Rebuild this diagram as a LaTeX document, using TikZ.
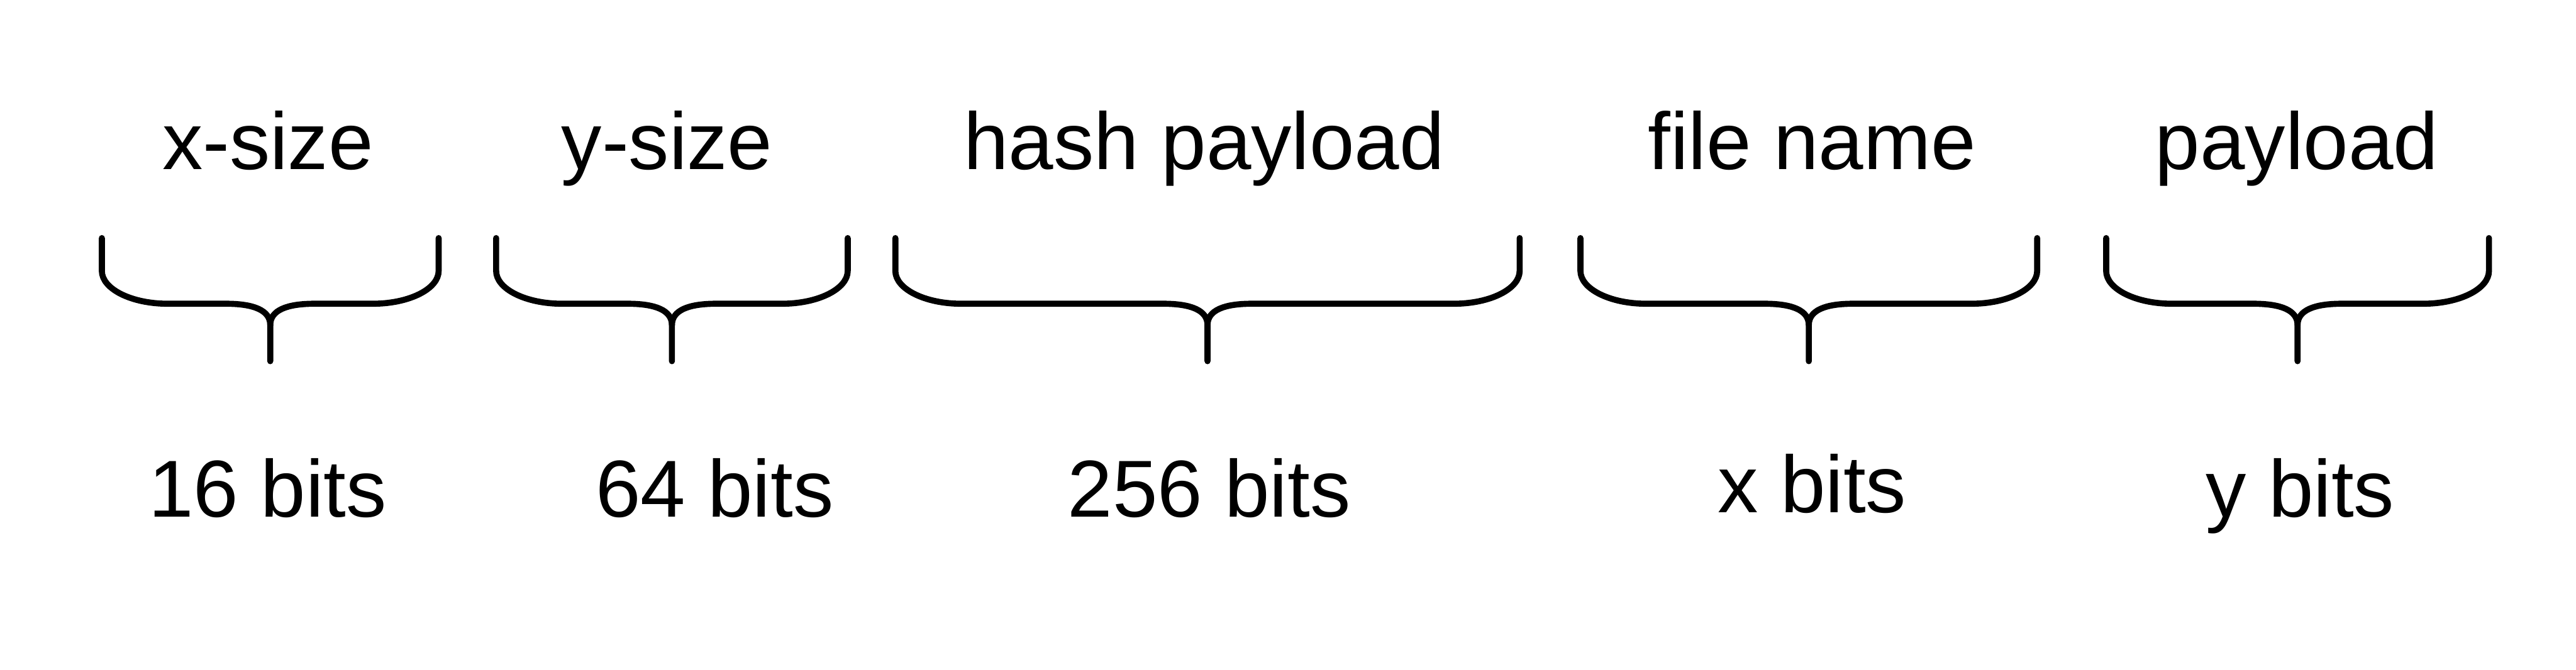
\documentclass[tikz,border=0pt]{standalone}
\usepackage{fontspec}
\setmainfont{Liberation Sans}
\tikzset{
  fieldname/.style={
    anchor = base,
    inner sep = 0,
    font = \fontsize{28}{33}\selectfont
  },
  fieldbits/.style={
    fieldname
  },
  curly/.style={
    line width = 2.1pt,
    line join = round,
    line cap = round
  }
}

\begin{document}
\begin{tikzpicture}[x=0.02cm,y=-0.02cm]
    \useasboundingbox (0,0) rectangle (1568,408);
    % braces under each field
    \foreach \l/\r in {62/267,302/516,545/925,962/1240,1282/1515}{
            \pgfmathsetmacro{\c}{(\l+\r)/2}
            \draw[curly] (\l,145) -- (\l,165) .. controls (\l,176) and (\l+18,185) .. (\l+40,185)
                -- (\c-27,185) .. controls (\c-10,185) and (\c,189) .. (\c,198) -- (\c,220);
            \draw[curly] (\r,145) -- (\r,165) .. controls (\r,176) and (\r-18,185) .. (\r-40,185)
                -- (\c+27,185) .. controls (\c+10,185) and (\c,189) .. (\c,198);
        }
    \node[fieldname] (xsize) at (163,103) {x-size};
    \node[fieldname] (ysize) at (406,103) {y-size};
    \node[fieldname] (hash) at (733,103) {hash payload};
    \node[fieldname] (fname) at (1103,103) {file name};
    \node[fieldname] (payload) at (1398,103) {payload};
    \node[fieldbits] (xsizebits) at (163,315) {16 bits};
    \node[fieldbits] (ysizebits) at (435,315) {64 bits};
    \node[fieldbits] (hashbits) at (736,315) {256 bits};
    \node[fieldbits] (fnamebits) at (1103,312) {x bits};
    \node[fieldbits] (payloadbits) at (1400,315) {y bits};
\end{tikzpicture}
\end{document}
